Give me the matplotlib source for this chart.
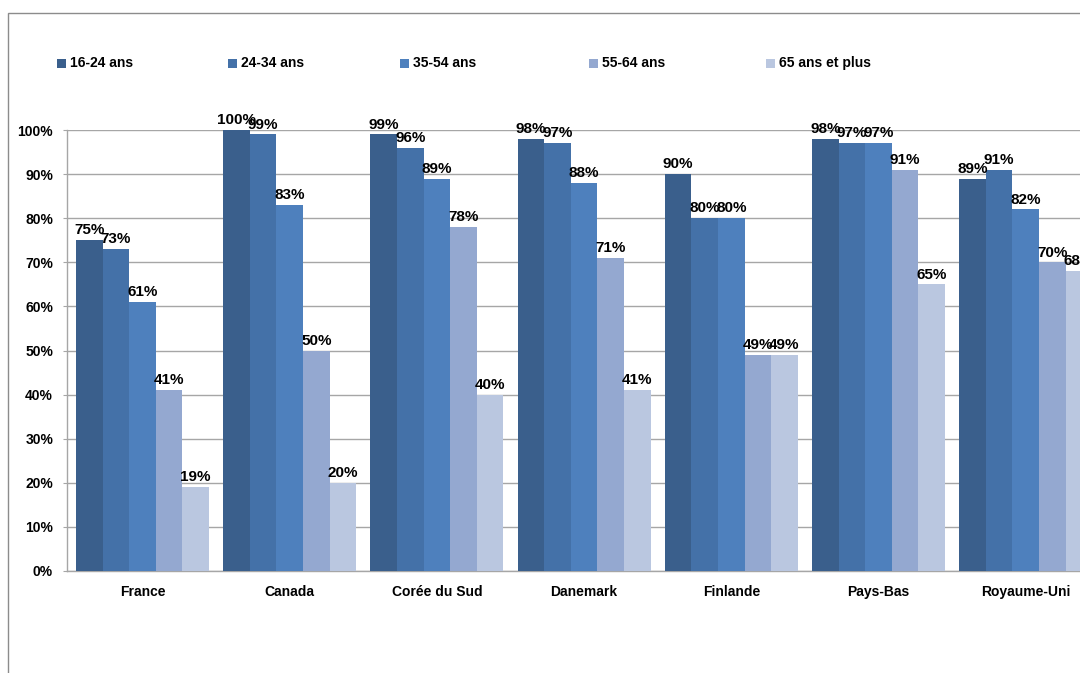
import matplotlib
matplotlib.use("Agg")
import matplotlib.pyplot as plt
from matplotlib.patches import Rectangle
from matplotlib.ticker import FuncFormatter, MultipleLocator
import numpy as np

plt.rcParams['font.family'] = ['Liberation Sans', 'DejaVu Sans']

countries = ["France", "Canada", "Corée du Sud", "Danemark", "Finlande", "Pays-Bas", "Royaume-Uni"]
series_names = ["16-24 ans", "24-34 ans", "35-54 ans", "55-64 ans", "65 ans et plus"]
age_16_24 = [75, 100, 99, 98, 90, 98, 89]
age_24_34 = [73, 99, 96, 97, 80, 97, 91]
age_35_54 = [61, 83, 89, 88, 80, 97, 82]
age_55_64 = [41, 50, 78, 71, 49, 91, 70]
age_65_plus = [19, 20, 40, 41, 49, 65, 68]
series_values = [age_16_24, age_24_34, age_35_54, age_55_64, age_65_plus]
colors = ["#3A5F8C", "#4471A8", "#4E80BD", "#94A8D0", "#BAC7E0"]

W, H = 1080, 673
fig = plt.figure(figsize=(W / 100, H / 100), dpi=100)

# outer frame (clipped on right and bottom)
fig.add_artist(Rectangle((8 / W, -0.1), 1.2, (H - 12.5) / H + 0.1, transform=fig.transFigure,
                         fill=False, edgecolor="#8c8c8c", linewidth=1.0))

ax_left, ax_right = 67, 1101.2
ax_bottom, ax_top = 571, 130
ax = fig.add_axes([ax_left / W, (H - ax_bottom) / H, (ax_right - ax_left) / W, (ax_bottom - ax_top) / H])

x = np.arange(len(countries))
bw = 0.1807
for i, (name, vals, c) in enumerate(zip(series_names, series_values, colors)):
    pos = x + (i - 2) * bw
    ax.bar(pos, vals, width=bw, color=c, label=name, zorder=3, linewidth=0)
    for p, v in zip(pos, vals):
        ax.annotate(f"{v}%", (p, v), xytext=(0, 2), textcoords="offset points",
                    ha="center", va="bottom", fontsize=11, fontweight="bold", color="black",
                    zorder=5, annotation_clip=False)

ax.set_xlim(-0.513, len(countries) - 1 + 0.513)
ax.set_ylim(0, 100)
ax.yaxis.set_major_locator(MultipleLocator(10))
ax.yaxis.set_major_formatter(FuncFormatter(lambda v, _: f"{int(v)}%"))
ax.set_xticks(x)
ax.set_xticklabels(countries)
ax.grid(axis="y", color="#a6a6a6", linewidth=1.0, zorder=0)
for s in ["top", "right"]:
    ax.spines[s].set_visible(False)
for s in ["left", "bottom"]:
    ax.spines[s].set_color("#a6a6a6")
    ax.spines[s].set_linewidth(1.0)
ax.tick_params(axis="x", length=0, pad=10, labelsize=10)
ax.tick_params(axis="y", length=3, pad=7, color="#a6a6a6", labelsize=10, direction="out")
for lab in ax.get_xticklabels() + ax.get_yticklabels():
    lab.set_fontweight("bold")

# legend (manual layout to match reference spacing)
leg_x = [57, 228, 400, 589, 766]
leg_y = 63
for lx, name, c in zip(leg_x, series_names, colors):
    fig.add_artist(Rectangle((lx / W, (H - leg_y - 4.5) / H), 9 / W, 9 / H, transform=fig.transFigure,
                             facecolor=c, edgecolor="none"))
    fig.text((lx + 13) / W, (H - leg_y) / H, name, ha="left", va="center", fontsize=10, fontweight="bold")

fig.savefig("out.png", dpi=100)
